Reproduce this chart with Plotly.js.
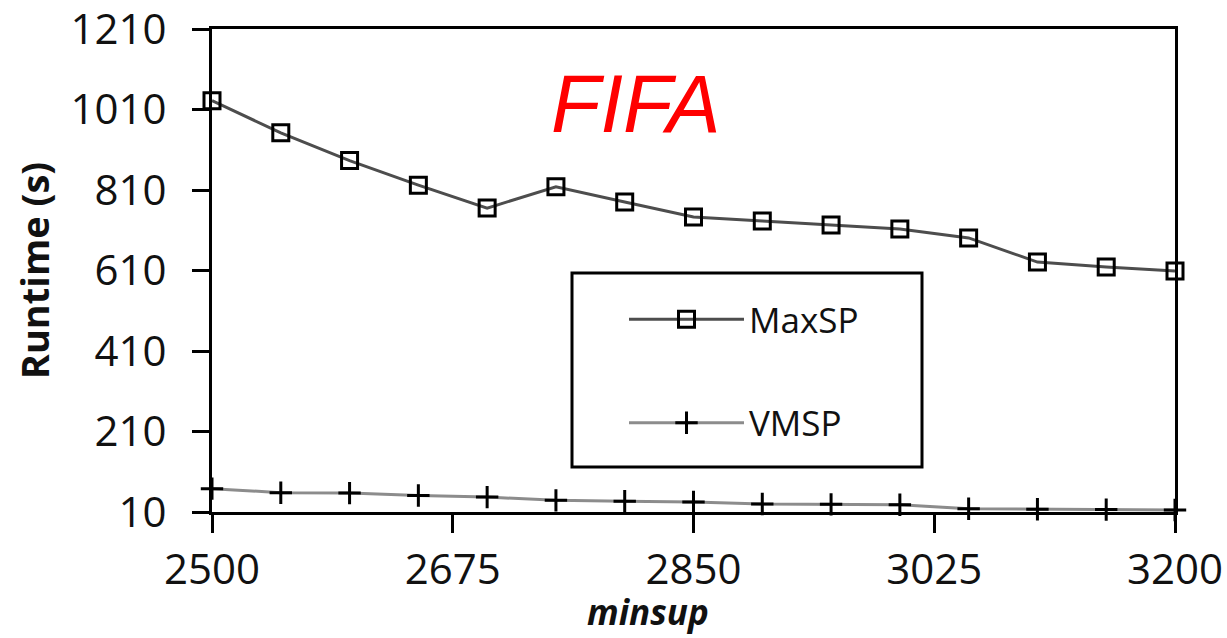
<!DOCTYPE html>
<html><head><meta charset="utf-8">
<script src="https://cdn.plot.ly/plotly-3.0.1.min.js"></script>
<style>html,body{margin:0;padding:0;background:#fff}#chart{width:1227px;height:638px}</style>
</head><body><div id="chart"></div>
<script>
const minsup = [2500, 2550, 2600, 2650, 2700, 2750, 2800, 2850, 2900, 2950, 3000, 3050, 3100, 3150, 3200];
const maxsp = [1032, 952, 883, 822, 765, 818, 780, 743, 733, 723, 713, 691, 631, 619, 609];
const vmsp = [68, 58, 57, 51, 47, 39, 37, 35, 30, 29, 28, 18, 17, 16, 15];
const xTicks = [2500, 2675, 2850, 3025, 3200];
const yTicks = [10, 210, 410, 610, 810, 1010, 1210];

const tickFont = {family: 'Open Sans, sans-serif', size: 42, color: '#111'};

const traces = [
  {x: minsup, y: maxsp, name: 'MaxSP', type: 'scatter', mode: 'lines+markers',
   legendgroup: 'a', cliponaxis: false,
   line: {color: '#4d4d4d', width: 3},
   marker: {symbol: 'square-open', size: 16, color: '#000', line: {color: '#000', width: 3}}},
  {x: minsup, y: vmsp, name: 'VMSP', type: 'scatter', mode: 'lines+markers',
   legendgroup: 'b', cliponaxis: false,
   line: {color: '#8c8c8c', width: 3},
   marker: {symbol: 'cross-thin', size: 16, color: '#000', line: {color: '#000', width: 3}}}
];

const P = (px) => (px - 212) / 963;
const Q = (py) => (512 - py) / 483;

const layout = {
  width: 1227, height: 638,
  margin: {l: 212, r: 52, t: 29, b: 126},
  paper_bgcolor: '#fff', plot_bgcolor: '#fff',
  showlegend: true,
  legend: {x: P(624), y: Q(290), xanchor: 'left', yanchor: 'top',
    bgcolor: 'rgba(0,0,0,0)', borderwidth: 0, itemwidth: 115,
    traceorder: 'grouped', tracegroupgap: 55,
    font: {family: 'Open Sans, sans-serif', size: 35, color: '#111'}},
  xaxis: {range: [2500, 3200], tickvals: xTicks, ticktext: xTicks.map(String),
    ticks: 'outside', ticklen: 18, tickwidth: 3, tickcolor: '#000',
    showline: true, linewidth: 3, linecolor: '#000', mirror: true,
    showgrid: false, zeroline: false, tickfont: tickFont, ticklabelstandoff: 1,
    ticklabeloverflow: 'allow'},
  yaxis: {range: [10, 1210], tickvals: yTicks, ticktext: yTicks.map(String),
    ticks: 'outside', ticklen: 17, tickwidth: 3, tickcolor: '#000',
    showline: true, linewidth: 3, linecolor: '#000', mirror: true,
    showgrid: false, zeroline: false, tickfont: tickFont, ticklabelstandoff: 17,
    ticklabeloverflow: 'allow',
    title: {text: 'Runtime (s)', standoff: 10,
      font: {family: 'Open Sans, sans-serif', size: 38, color: '#111', weight: 'bold'}}},
  shapes: [
    {type: 'rect', xref: 'paper', yref: 'paper', x0: P(572), x1: P(922), y0: Q(467), y1: Q(273),
     line: {color: '#000', width: 3}, fillcolor: 'rgba(0,0,0,0)'}
  ],
  annotations: [
    {text: 'FIFA', xref: 'paper', yref: 'paper', x: P(635), y: Q(104), showarrow: false,
     xanchor: 'center', yanchor: 'middle',
     font: {family: 'Liberation Sans, Arial, sans-serif', size: 81, color: '#ff0000', style: 'italic'}},
    {text: 'minsup', xref: 'paper', yref: 'paper', x: P(648), y: Q(611), showarrow: false,
     xanchor: 'center', yanchor: 'middle', borderpad: 0,
     font: {family: 'Open Sans, sans-serif', size: 35, color: '#111', weight: 'bold', style: 'italic'}}
  ]
};

Plotly.newPlot('chart', traces, layout, {displayModeBar: false, staticPlot: true});
</script>
</body></html>
